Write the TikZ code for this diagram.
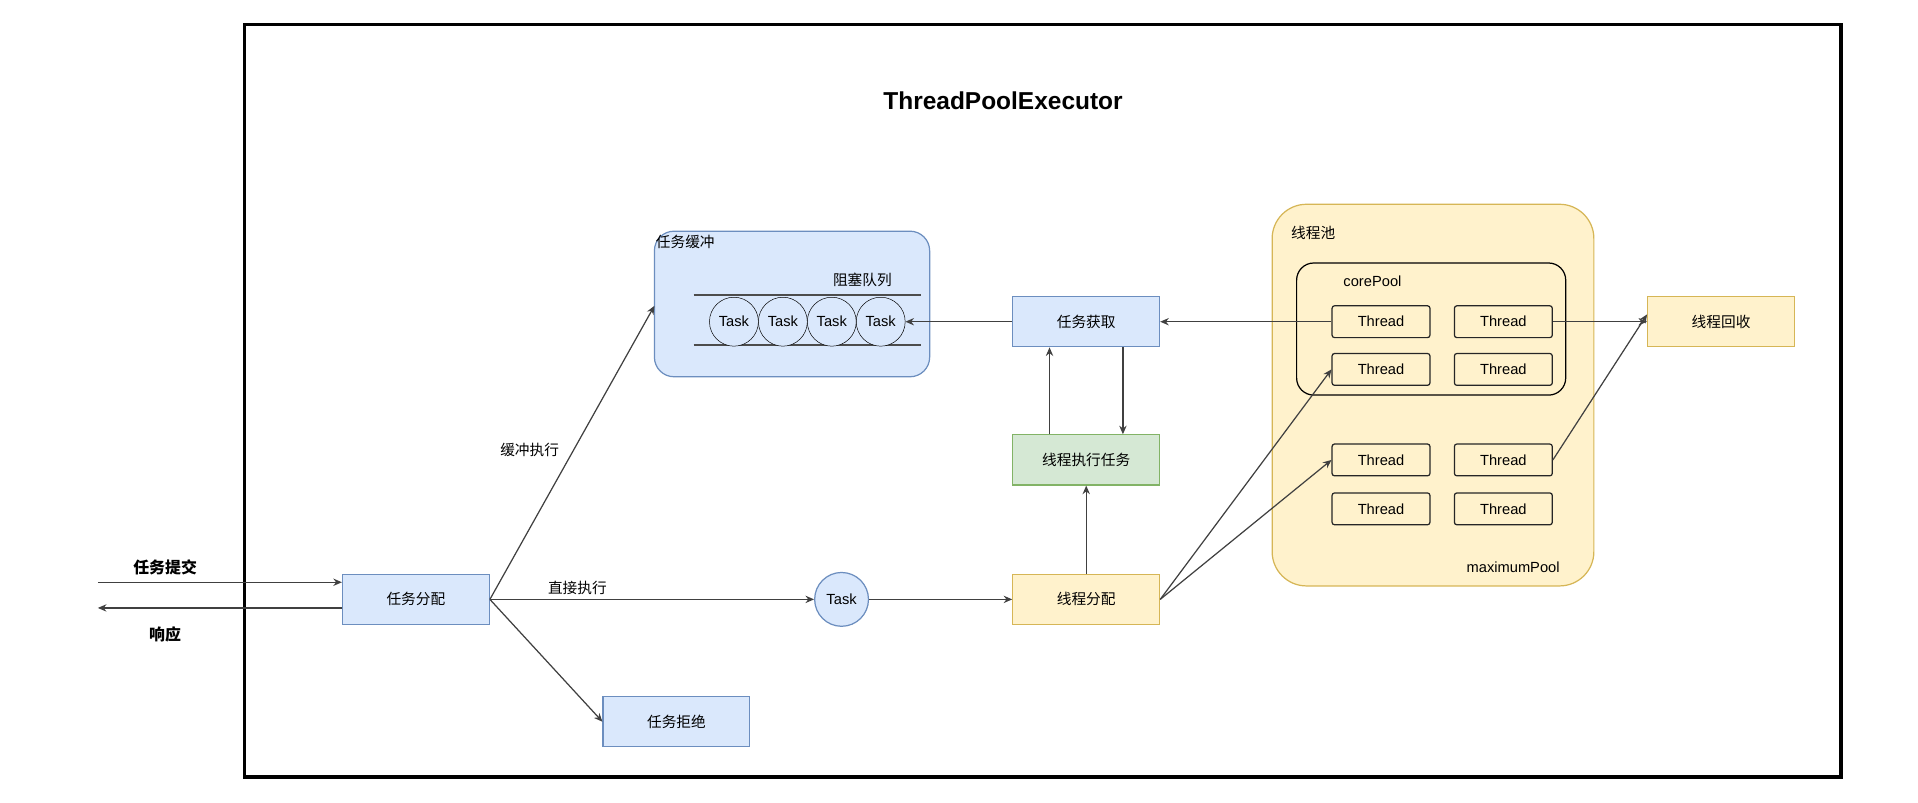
\documentclass[tikz,border=0pt]{standalone}
\usepackage{fontspec}
\setmainfont{Liberation Sans}
\newfontfamily\cjk{Noto Sans CJK SC}
\usetikzlibrary{arrows.meta}
\definecolor{bfill}{HTML}{DAE8FC}\definecolor{bline}{HTML}{6C8EBF}
\definecolor{yfill}{HTML}{FFF2CC}\definecolor{yline}{HTML}{D6B656}
\definecolor{gfill}{HTML}{D5E8D4}\definecolor{gline}{HTML}{82B366}
\begin{document}
\begin{tikzpicture}[x=1pt,y=-1pt,
  every node/.style={font=\fontsize{12}{14}\selectfont},
  box/.style={draw=#1line,fill=#1fill,line width=1pt,minimum width=120pt,minimum height=41pt,inner sep=0pt,font=\cjk\fontsize{12}{14}\selectfont},
  thr/.style={draw=black!85,fill=yfill,rounded corners=2pt,line width=1pt,minimum width=80pt,minimum height=26pt,inner sep=0pt},
  task/.style={circle,draw=black,minimum size=40pt,inner sep=0pt},
  ar/.style={-{Stealth[length=7pt,width=6pt]},draw=black!75,line width=1pt},
  lbl/.style={font=\cjk\fontsize{12}{14}\selectfont}]
\useasboundingbox (0,0) rectangle (1568,656);
\fill[white] (0,0) rectangle (1568,656);
\draw[line width=3pt] (200,20) rectangle (1505,635);
\node[font=\bfseries\fontsize{20}{24}\selectfont] (title) at (820,82) {ThreadPoolExecutor};
% buffer
\draw[draw=bline,fill=bfill,line width=1pt,rounded corners=16pt] (535,189) rectangle (760,308);
\coordinate (bufL) at (535,250);
\node[lbl,anchor=north west,inner sep=1pt] (buft) at (535,191) {任务缓冲};
\node[lbl] (queue) at (705,229) {阻塞队列};
\draw[line width=2pt,black!70] (567,241) -- (753,241) (567,282) -- (753,282);
\foreach \i/\x in {1/600,2/640,3/680,4/720}
  \node[task,fill=bfill] (t\i) at (\x,263) {Task};
% pool
\draw[draw=yline,fill=yfill,line width=1pt,rounded corners=28pt] (1040,167) rectangle (1303,479);
\node[lbl,anchor=west] (poolt) at (1052,190) {线程池};
\node (maxp) at (1237,464) {maximumPool};
\draw[line width=1pt,rounded corners=14pt] (1060,215) rectangle (1280,323);
\node (corep) at (1122,230) {corePool};
\node[thr] (a1) at (1129,263) {Thread};
\node[thr] (a2) at (1229,263) {Thread};
\node[thr] (b1) at (1129,302) {Thread};
\node[thr] (b2) at (1229,302) {Thread};
\node[thr] (c1) at (1129,376) {Thread};
\node[thr] (c2) at (1229,376) {Thread};
\node[thr] (d1) at (1129,416) {Thread};
\node[thr] (d2) at (1229,416) {Thread};
% boxes
\node[box=b] (get) at (888,263) {任务获取};
\node[box=g] (exec) at (888,376) {线程执行任务};
\node[box=y] (alloc) at (888,490) {线程分配};
\node[box=b] (dist) at (340,490) {任务分配};
\node[box=b] (rej) at (553,590) {任务拒绝};
\node[box=y] (rec) at (1407,263) {线程回收};
\node[circle,draw=bline,fill=bfill,line width=1pt,minimum width=40pt,minimum height=44pt,inner sep=0pt] (task) at (688,490) {Task};
% outside
\coordinate (inS) at (80,476);
\coordinate (outE) at (80,497);
\node[lbl,font=\cjk\bfseries\fontsize{13}{15}\selectfont] (sub) at (135,464) {任务提交};
\node[lbl,font=\cjk\bfseries\fontsize{13}{15}\selectfont] (resp) at (135,519) {响应};
\draw[ar] (inS) -- (dist.west |- inS);
\draw[ar] (dist.west |- outE) -- (outE);
% connectors
\draw[ar] (dist.east) -- node[lbl,above,pos=0.27] {直接执行} (task.west);
\draw[ar] (task.east) -- (alloc.west);
\draw[ar] (dist.east) -- (bufL);
\node[lbl] (bl) at (433,368) {缓冲执行};
\draw[ar] (dist.east) -- (rej.west);
\draw[ar] (get.west) -- (t4.east);
\draw[ar] (a1.west) -- (get.east);
\draw[ar] ([xshift=-30pt]exec.north) -- ([xshift=-30pt]get.south);
\draw[ar] ([xshift=30pt]get.south) -- ([xshift=30pt]exec.north);
\draw[ar] (alloc.north) -- (exec.south);
\draw[ar] (alloc.east) -- (b1.west);
\draw[ar] (alloc.east) -- (c1.west);
\draw[ar] (a2.east) -- (rec.west);
\draw[ar] (c2.east) -- ([yshift=6pt]rec.west);
\end{tikzpicture}
\end{document}
